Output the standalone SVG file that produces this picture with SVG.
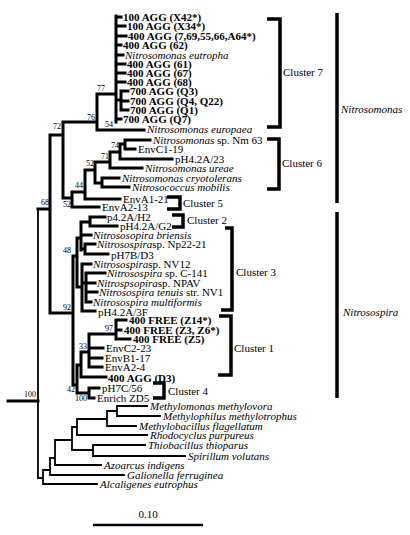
<svg xmlns="http://www.w3.org/2000/svg" width="410" height="535" viewBox="0 0 410 535">
<style>
text{font-family:"Liberation Serif","Times New Roman",serif;font-size:11px;fill:#000}
.b{font-weight:bold}
.i{font-style:italic}
.bs{font-size:8px;text-anchor:end}
.tk{fill:none;stroke:#000;stroke-width:3;stroke-linecap:square}
.tn{fill:none;stroke:#000;stroke-width:1.8;stroke-linecap:square}
.br{fill:none;stroke:#000;stroke-width:3.5}
</style>
<rect width="410" height="535" fill="#fff"/>
<g id="connectors">
<path class="tk" d="M8,401H38 M38,209H50 M50,135V313 M50,135H63 M63,122V198 M63,122H97 M63,198H72 M97,94V130 M97,94H116 M97,130H144 M116,16V122 M116,17H121 M116,26H125 M116,36H126 M116,45H121 M116,55H123 M116,64H125 M116,73H125 M116,82H125 M116,100H121 M121,91V110 M121,91H128 M121,101H128 M121,110H128 M116,119H121 M72,192V207 M72,192H85 M72,207H99 M85,170V199 M85,170H95 M85,199H120 M95,162V183 M95,162H110 M95,183H102 M102,178V187 M102,178H119 M102,187H129 M110,152V168 M110,152H120 M110,168H142 M120,144V159 M120,144H125 M120,159H172 M125,140V149 M125,140H150 M125,149H135 M50,313H73 M73,256V385 M73,256H77 M77,238V287 M77,238H81 M81,222V250 M81,222H90 M90,217V226 M90,217H105 M90,226H117 M81,235H91 M81,249H85 M85,244V254 M85,244H95 M85,254H108 M77,287H82 M82,264V311 M82,264H91 M82,283H86 M86,273V302 M86,273H105 M86,283H95 M86,292H97 M86,302H91 M82,311H95 M73,385H77 M77,365V393 M77,393H89 M89,388V398 M89,388H99 M89,398H94 M77,365H81 M81,352V377 M81,377H106 M81,352H89 M89,334V367 M89,334H116 M89,348H103 M89,358H102 M89,367H102 M116,320V339 M116,320H126 M116,330H121 M116,339H130"/>
<path class="tn" d="M38,209V478 M38,478H43 M43,470V484 M43,470H50 M43,484H97 M50,458V475 M50,458H55 M50,475H124 M55,440V465 M55,440H72 M55,465H101 M72,427V450 M72,427H77 M72,450H93 M93,445V456 M93,445H145 M93,456H185 M77,419V435 M77,419H107 M77,435H147 M107,411V426 M107,411H117 M107,426H136 M117,406V416 M117,406H147 M117,416H160"/>
<path class="br" d="M267,19H280V127H267 M267,139H279V189H267 M167,197H180V209H167 M172,215H183V227H172 M225,228H232V310H221 M219,316H231V375H218 M153,383H164V398H153"/>
<path class="br" d="M337,13V203 M337,212V398"/>
<path fill="none" stroke="#000" stroke-width="2.5" d="M93,525H203"/>
</g>
<g id="bootstrap">
<text class="bs" x="36" y="397">100</text>
<text class="bs" x="49" y="205">68</text>
<text class="bs" x="61" y="129">72</text>
<text class="bs" x="95" y="120">76</text>
<text class="bs" x="105" y="91">77</text>
<text class="bs" x="113" y="127">54</text>
<text class="bs" x="119" y="148">74</text>
<text class="bs" x="109" y="159">71</text>
<text class="bs" x="94" y="166">52</text>
<text class="bs" x="83" y="188">44</text>
<text class="bs" x="71" y="207">52</text>
<text class="bs" x="71" y="253">48</text>
<text class="bs" x="71" y="310">92</text>
<text class="bs" x="113" y="331">97</text>
<text class="bs" x="87" y="349">33</text>
<text class="bs" x="75" y="392">42</text>
<text class="bs" x="87" y="401">100</text>
</g>
<g id="n1"><text class="b" x="123" y="21">100 AGG (X42*)</text></g>
<g id="n2"><text class="b" x="127" y="30">100 AGG (X34*)</text></g>
<g id="n3"><text class="b" x="128" y="40">400 AGG (7,69,55,66,A64*)</text></g>
<g id="n4"><text class="b" x="123" y="49">400 AGG (62)</text></g>
<g id="n5"><text class="i" x="125" y="59">Nitrosomonas eutropha</text></g>
<g id="n6"><text class="b" x="127" y="68">400 AGG (61)</text></g>
<g id="n7"><text class="b" x="127" y="77">400 AGG (67)</text></g>
<g id="n8"><text class="b" x="127" y="86">400 AGG (68)</text></g>
<g id="n9"><text class="b" x="130" y="95">700 AGG (Q3)</text></g>
<g id="n10"><text class="b" x="130" y="105">700 AGG (Q4, Q22)</text></g>
<g id="n11"><text class="b" x="130" y="114">700 AGG (Q1)</text></g>
<g id="n12"><text class="b" x="123" y="123">700 AGG (Q7)</text></g>
<g id="n13"><text class="i" x="147" y="133">Nitrosomonas europaea</text></g>
<g id="n14"><text x="153" y="144"><tspan class="i">Nitrosomonas</tspan>  sp. Nm 63</text></g>
<g id="n15"><text x="138" y="153">EnvC1-19</text></g>
<g id="n16"><text x="175" y="163">pH4.2A/23</text></g>
<g id="n17"><text class="i" x="145" y="172">Nitrosomonas ureae</text></g>
<g id="n18"><text class="i" x="122" y="182">Nitrosomonas cryotolerans</text></g>
<g id="n19"><text class="i" x="132" y="191">Nitrosococcus mobilis</text></g>
<g id="n20"><text x="123" y="203">EnvA1-21</text></g>
<g id="n21"><text x="102" y="211">EnvA2-13</text></g>
<g id="n22"><text x="107" y="221">p4.2A/H2</text></g>
<g id="n23"><text x="120" y="230">pH4.2A/G2</text></g>
<g id="n24"><text class="i" x="93" y="239">Nitrososopira briensis</text></g>
<g id="n25"><text x="97" y="248"><tspan class="i">Nitrosospira</tspan>sp. Np22-21</text></g>
<g id="n26"><text x="111" y="259">pH7B/D3</text></g>
<g id="n27"><text x="93" y="268"><tspan class="i">Nitrosospira</tspan>sp. NV12</text></g>
<g id="n28"><text x="107" y="277"><tspan class="i">Nitrosospira</tspan> sp. C-141</text></g>
<g id="n29"><text x="97" y="287"><tspan class="i">Nitrospsopira</tspan>sp. NPAV</text></g>
<g id="n30"><text x="99" y="296"><tspan class="i">Nitrosospira tenuis</tspan>  str. NV1</text></g>
<g id="n31"><text class="i" x="93" y="306">Nitrosospira multiformis</text></g>
<g id="n32"><text x="98" y="316">pH4.2A/3F</text></g>
<g id="n33"><text class="b" x="129" y="324">400 FREE (Z14*)</text></g>
<g id="n34"><text class="b" x="124" y="334">400 FREE (Z3, Z6*)</text></g>
<g id="n35"><text class="b" x="133" y="343">400 FREE (Z5)</text></g>
<g id="n36"><text x="106" y="352">EnvC2-23</text></g>
<g id="n37"><text x="105" y="362">EnvB1-17</text></g>
<g id="n38"><text x="105" y="371">EnvA2-4</text></g>
<g id="n39"><text class="b" x="108" y="382">400 AGG (D3)</text></g>
<g id="n40"><text x="102" y="392">pH7C/56</text></g>
<g id="n41"><text x="97" y="402">Enrich ZD5</text></g>
<g id="n42"><text class="i" x="150" y="410">Methylomonas methylovora</text></g>
<g id="n43"><text class="i" x="163" y="420">Methylophilus methylotrophus</text></g>
<g id="n44"><text class="i" x="139" y="430">Methylobacillus flagellatum</text></g>
<g id="n45"><text class="i" x="150" y="439">Rhodocyclus purpureus</text></g>
<g id="n46"><text class="i" x="148" y="449">Thiobacillus thioparus</text></g>
<g id="n47"><text class="i" x="188" y="460">Spirillum volutans</text></g>
<g id="n48"><text class="i" x="104" y="469">Azoarcus indigens</text></g>
<g id="n49"><text class="i" x="127" y="479">Galionella ferruginea</text></g>
<g id="n50"><text class="i" x="100" y="488">Alcaligenes eutrophus</text></g>
<g id="c7"><text x="283" y="76">Cluster 7</text></g>
<g id="c6"><text x="282" y="167">Cluster 6</text></g>
<g id="c5"><text x="183" y="207">Cluster 5</text></g>
<g id="c2"><text x="187" y="224">Cluster 2</text></g>
<g id="c3"><text x="236" y="276">Cluster 3</text></g>
<g id="c1"><text x="234" y="352">Cluster 1</text></g>
<g id="c4"><text x="168" y="395">Cluster 4</text></g>
<g id="g1"><text class="i" x="341" y="113">Nitrosomonas</text></g>
<g id="g2"><text class="i" x="343" y="316">Nitrosospira</text></g>
<g id="scale"><text x="148" y="518" text-anchor="middle">0.10</text></g>
</svg>
